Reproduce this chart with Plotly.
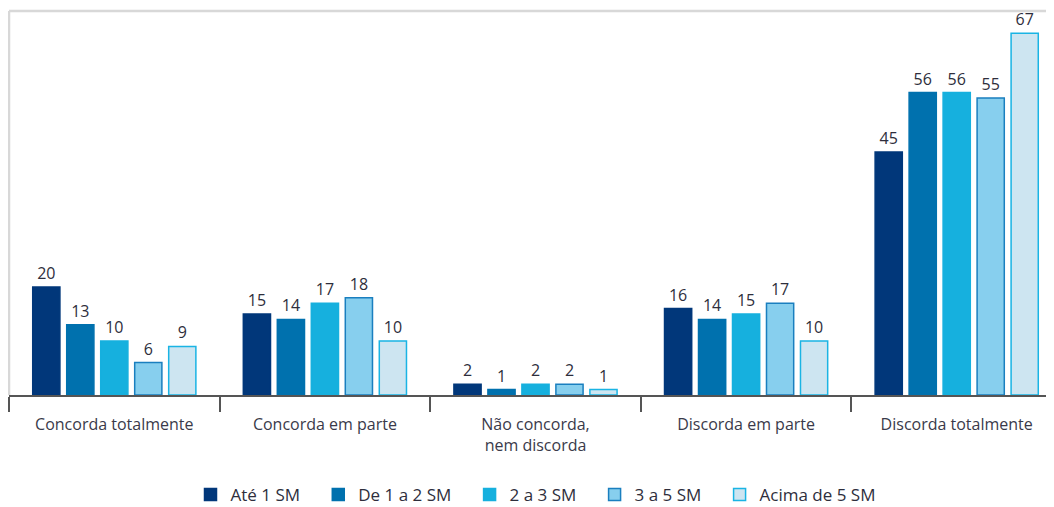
import plotly.graph_objects as go

categories = ["Concorda totalmente", "Concorda em parte", "Não concorda,<br>nem discorda",
              "Discorda em parte", "Discorda totalmente"]
series_names = ["Até 1 SM", "De 1 a 2 SM", "2 a 3 SM", "3 a 5 SM", "Acima de 5 SM"]
ate_1 = [20, 15, 2, 16, 45]
de_1_a_2 = [13, 14, 1, 14, 56]
de_2_a_3 = [10, 17, 2, 15, 56]
de_3_a_5 = [6, 18, 2, 17, 55]
acima_5 = [9, 10, 1, 10, 67]
series_values = [ate_1, de_1_a_2, de_2_a_3, de_3_a_5, acima_5]

fills = ["#01377a", "#0071ae", "#16b0de", "#87cfee", "#cde5f1"]
borders = ["#01377a", "#0071ae", "#16b0de", "#1a7fbf", "#1ab4e4"]

FONT = "Open Sans"
PAD = "\u00a0" * 3
fig = go.Figure()
for i, (name, vals, fc, bc) in enumerate(zip(series_names, series_values, fills, borders)):
    label = name + (PAD if i < len(series_names) - 1 else "")
    fig.add_trace(go.Bar(
        x=categories, y=vals, name=label,
        marker=dict(color=fc, line=dict(color=bc, width=1.5)),
        text=[str(v) for v in vals], textposition="outside",
        textfont=dict(family=FONT, size=16, color="#2e2e3c"),
        cliponaxis=False,
    ))

fig.update_layout(
    width=1054, height=507,
    margin=dict(l=1, r=0, t=3, b=120),
    paper_bgcolor="white", plot_bgcolor="white",
    barmode="group", bargap=0.193, bargroupgap=0.2,
    font=dict(family=FONT, size=16, color="#3a3a4a"),
    showlegend=True,
    legend=dict(orientation="h", x=0.5, xanchor="center", y=-0.26, yanchor="middle",
                font=dict(family=FONT, size=17, color="#2e2e3c"),
                itemwidth=30, traceorder="normal"),
    xaxis=dict(range=[-0.5, 4.5], showline=True, linecolor="#555555", linewidth=1.5,
               ticks="outside", tickson="boundaries", ticklen=15, tickcolor="#555555",
               tickwidth=1.5, showgrid=False, ticklabelstandoff=14,
               tickfont=dict(family=FONT, size=16, color="#3a3a4a")),
    yaxis=dict(range=[0, 71.1], showticklabels=False, showgrid=False, zeroline=False,
               showline=False, ticks=""),
    shapes=[
        dict(type="line", xref="paper", yref="paper", x0=0, x1=1, y0=1, y1=1,
             line=dict(color="#d8d8d8", width=2.5)),
        dict(type="line", xref="paper", yref="paper", x0=0, x1=0, y0=0, y1=1,
             line=dict(color="#d8d8d8", width=2.5)),
    ],
)

fig.write_html("out.html")
